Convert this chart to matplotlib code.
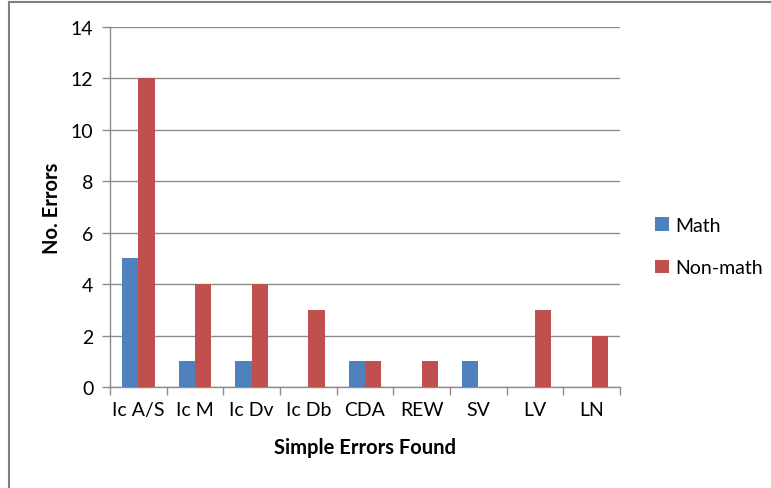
import matplotlib

matplotlib.use("Agg")
import matplotlib.pyplot as plt
from matplotlib.lines import Line2D
import numpy as np

categories = ["Ic A/S", "Ic M", "Ic Dv", "Ic Db", "CDA", "REW", "SV", "LV", "LN"]
math_errors = [5, 1, 1, 0, 1, 0, 1, 0, 0]
nonmath_errors = [12, 4, 4, 3, 1, 1, 0, 3, 2]

plt.rcParams["font.family"] = ["Lato", "DejaVu Sans"]

W, H = 771, 489
fig = plt.figure(figsize=(W / 100, H / 100), dpi=100)
ax = fig.add_axes([110 / W, 1 - 388 / H, 510 / W, 360 / H])

x = np.arange(len(categories))
bw = 0.29
ax.bar(x - bw / 2, math_errors, bw, color="#4F81BD", label="Math", zorder=3)
ax.bar(x + bw / 2, nonmath_errors, bw, color="#C0504D", label="Non-math", zorder=3)

ax.set_xlim(-0.5, len(categories) - 0.5)
ax.set_ylim(0, 14)
ax.set_yticks(range(0, 15, 2))
ax.yaxis.grid(True, color="#8c8c8c", lw=1, zorder=0)
ax.set_axisbelow(True)

# category labels centered, tick marks between categories
ax.set_xticks(x)
ax.set_xticklabels(categories, fontsize=14)
ax.tick_params(axis="x", length=0, pad=10)
ax.set_xticks(np.arange(-0.5, len(categories)), minor=True)
ax.tick_params(axis="x", which="minor", length=6, color="#8c8c8c", width=1)
ax.tick_params(axis="y", length=6, color="#8c8c8c", width=1, labelsize=14, pad=6)

for side in ("top", "right"):
    ax.spines[side].set_visible(False)
for side in ("left", "bottom"):
    ax.spines[side].set_color("#8c8c8c")
    ax.spines[side].set_linewidth(1)

ax.set_xlabel("Simple Errors Found", fontsize=14.5, fontweight="bold", labelpad=14)
ax.set_ylabel("No. Errors", fontsize=14.5, fontweight="bold", labelpad=6)

ax.legend(loc="center left", bbox_to_anchor=(1.035, 0.39), frameon=False,
          fontsize=14, handlelength=0.7, handleheight=0.7, handletextpad=0.3,
          labelspacing=1.3)

# partial outer border (left and top edges of the chart frame)
fig.add_artist(Line2D([9 / W, 9 / W], [0, 1 - 3 / H], color="#7f7f7f", lw=1.5,
                      transform=fig.transFigure))
fig.add_artist(Line2D([9 / W, 1], [1 - 3 / H, 1 - 3 / H], color="#7f7f7f", lw=1.5,
                      transform=fig.transFigure))

fig.savefig("out.png", dpi=100)
